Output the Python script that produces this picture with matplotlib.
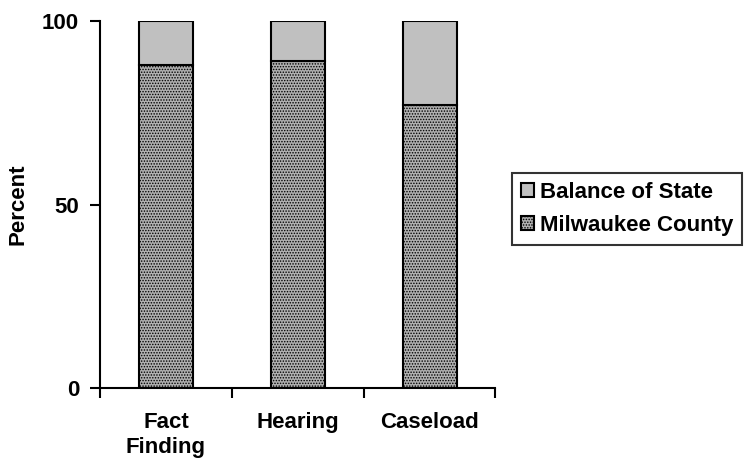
import matplotlib.pyplot as plt

categories = ["Fact\nFinding", "Hearing", "Caseload"]
milwaukee = [88, 89, 77]
balance = [12, 11, 23]

plt.rcParams['font.family'] = ['Liberation Sans', 'DejaVu Sans']
plt.rcParams['font.weight'] = 'bold'
plt.rcParams['hatch.linewidth'] = 0.7
plt.rcParams['hatch.color'] = '#707070'

fig = plt.figure(figsize=(7.49, 4.62), dpi=100)
ax = fig.add_axes([0.1335, 0.16, 0.528, 0.7945])

x = list(range(len(categories)))
ax.bar(x, milwaukee, width=0.41, color='#b0b0b0', edgecolor='black',
       linewidth=1.5, hatch='......', label='Milwaukee County')
ax.bar(x, balance, width=0.41, bottom=milwaukee, color='#c0c0c0',
       edgecolor='black', linewidth=1.5, label='Balance of State')

ax.set_xlim(-0.5, 2.5)
ax.set_ylim(0, 100)
ax.set_yticks([0, 50, 100])
ax.set_yticklabels(['0', '50', '100'], fontsize=16, fontweight='bold')
ax.set_ylabel('Percent', fontsize=16, fontweight='bold')
ax.yaxis.set_label_coords(-0.18, 0.5)

ax.set_xticks([-0.5, 0.5, 1.5, 2.5])
ax.set_xticklabels([])
ax.set_xticks(x, minor=True)
ax.set_xticklabels(categories, minor=True, fontsize=16, fontweight='bold',
                   linespacing=1.3)
ax.tick_params(axis='x', which='minor', length=0, pad=17)
ax.tick_params(axis='both', which='major', direction='out', length=7, width=1.5)
ax.tick_params(axis='y', which='major', pad=8)

ax.spines['top'].set_visible(False)
ax.spines['right'].set_visible(False)
ax.spines['left'].set_linewidth(1.5)
ax.spines['bottom'].set_linewidth(1.5)

handles, labels = ax.get_legend_handles_labels()
leg = fig.legend(handles[::-1], labels[::-1], loc='upper left',
                 bbox_to_anchor=(0.6836, 0.6255), fontsize=16, frameon=True,
                 fancybox=False, edgecolor='black', handlelength=0.6,
                 handleheight=0.6, handletextpad=0.25, borderpad=0.4,
                 borderaxespad=0, labelspacing=0.55)
leg.get_frame().set_linewidth(1.5)

fig.savefig('out.png', dpi=100)
